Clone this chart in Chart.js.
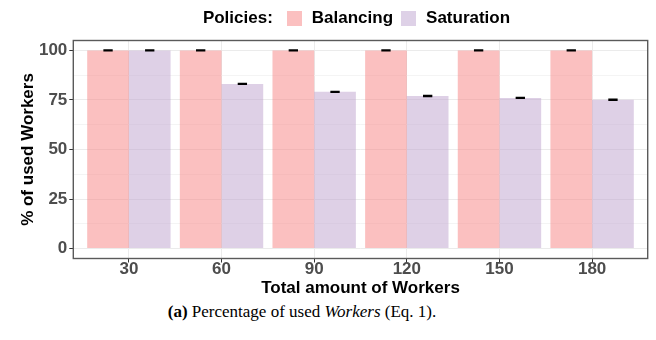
<!DOCTYPE html>
<html>
<head>
<meta charset="utf-8">
<script src="https://cdn.jsdelivr.net/npm/chart.js@4.4.1/dist/chart.umd.min.js"></script>
<style>
  html, body { margin: 0; padding: 0; background: #ffffff; }
  #wrap { position: relative; width: 656px; height: 340px; overflow: hidden; }
  #plot { position: absolute; left: 0; top: 0; }
  #legend {
    position: absolute; left: 73px; top: 8px; width: 575px; height: 20px;
    display: flex; justify-content: center; align-items: center;
    font: bold 17px "Liberation Sans", Arial, sans-serif; color: #000;
  }
  #legend .sw { width: 15px; height: 15px; margin: 0 10px 0 0; }
  #legend .ttl { margin-right: 14px; }
  #legend .lab { margin-right: 8px; }
  #caption {
    position: absolute; left: 0; top: 302px; width: 604px; text-align: center;
    font: 17px "Liberation Serif", "Times New Roman", serif; color: #000;
  }
</style>
</head>
<body>
<div id="wrap">
  <canvas id="plot" width="656" height="300"></canvas>
  <div id="legend"></div>
  <div id="caption"><b>(a)</b> Percentage of used <i>Workers</i> (Eq. 1).</div>
</div>
<script>
// ---- data ----
var categories = ['30', '60', '90', '120', '150', '180'];
var seriesNames = ['Balancing', 'Saturation'];
var balancing = [100, 100, 100, 100, 100, 100];
var saturation = [100, 83.1, 79.1, 77.0, 76.0, 75.1];
var balancingErr = [0.25, 0.25, 0.25, 0.25, 0.25, 0.25];
var saturationErr = [0.25, 0.25, 0.25, 0.25, 0.25, 0.25];
var yTicks = [0, 12.5, 25, 37.5, 50, 62.5, 75, 87.5, 100];

var fillColors = ['rgba(247,129,129,0.5)', 'rgba(189,162,206,0.5)'];
var legendColors = ['#FBC0C0', '#DED1E7'];

// ---- legend (html) ----
var lg = document.getElementById('legend');
lg.innerHTML = '<span class="ttl">Policies:</span>' + seriesNames.map(function (n, i) {
    return '<span class="sw" style="background:' + legendColors[i] + '"></span><span class="lab">' + n + '</span>';
}).join('');

function toPoints(arr) {
    return arr.map(function (v, i) { return { x: i, y: v }; });
}

var seriesValues = [balancing, saturation];
var seriesErrs = [balancingErr, saturationErr];

// error bars drawn on top of bars, positioned by the chart's own scales
var errorBars = {
    id: 'errorBars',
    afterDatasetsDraw: function (chart) {
        var ctx = chart.ctx;
        var y = chart.scales.y;
        ctx.save();
        ctx.strokeStyle = '#000';
        ctx.lineWidth = 1.3;
        chart.data.datasets.forEach(function (ds, di) {
            var meta = chart.getDatasetMeta(di);
            meta.data.forEach(function (bar, j) {
                var v = seriesValues[di][j], e = seriesErrs[di][j];
                var hi = y.getPixelForValue(v + e);
                var lo = y.getPixelForValue(v - e);
                var half = bar.width * 0.112;
                ctx.beginPath();
                ctx.moveTo(bar.x - half, hi); ctx.lineTo(bar.x + half, hi);
                ctx.moveTo(bar.x - half, lo); ctx.lineTo(bar.x + half, lo);
                ctx.moveTo(bar.x, hi); ctx.lineTo(bar.x, lo);
                ctx.stroke();
            });
        });
        ctx.restore();
    }
};

var panelBorder = {
    id: 'panelBorder',
    afterDraw: function (chart) {
        var a = chart.chartArea, ctx = chart.ctx;
        ctx.save();
        ctx.strokeStyle = '#5a5a5a';
        ctx.lineWidth = 1.4;
        ctx.strokeRect(a.left, a.top, a.right - a.left, a.bottom - a.top);
        ctx.restore();
    }
};

Chart.defaults.font.family = '"Liberation Sans", Arial, sans-serif';

new Chart(document.getElementById('plot'), {
    type: 'bar',
    data: {
        datasets: [
            { label: seriesNames[0], data: toPoints(balancing), backgroundColor: fillColors[0], borderWidth: 0 },
            { label: seriesNames[1], data: toPoints(saturation), backgroundColor: fillColors[1], borderWidth: 0 }
        ]
    },
    options: {
        responsive: false,
        animation: false,
        categoryPercentage: 0.9,
        barPercentage: 1.0,
        layout: { padding: { left: 0, right: 8.3, top: 40.5, bottom: 1.5 } },
        plugins: { legend: { display: false }, tooltip: { enabled: false } },
        scales: {
            x: {
                type: 'linear',
                min: -0.6,
                max: 5.6,
                offset: false,
                afterBuildTicks: function (axis) {
                    axis.ticks = categories.map(function (c, i) { return { value: i }; });
                },
                afterFit: function (axis) { axis.height = 40; },
                border: { display: false },
                grid: { offset: false, color: '#EBEBEB', lineWidth: 1, tickLength: 4, tickColor: '#333333' },
                ticks: {
                    color: '#4D4D4D', padding: -2,
                    font: { size: 17, weight: 'bold', lineHeight: 1 },
                    callback: function (v) { return categories[v]; }
                },
                title: {
                    display: true, text: 'Total amount of Workers', color: '#000',
                    font: { size: 17, weight: 'bold' }, padding: { top: 0, bottom: 0 }
                }
            },
            y: {
                min: -5,
                max: 105,
                afterBuildTicks: function (axis) {
                    axis.ticks = yTicks.map(function (v) { return { value: v }; });
                },
                afterFit: function (axis) { axis.width = 73.3; },
                border: { display: false },
                grid: {
                    color: function (c) { return c.tick && c.tick.value % 25 === 0 ? '#EBEBEB' : '#F4F4F4'; },
                    lineWidth: 1,
                    tickLength: 4,
                    tickColor: function (c) { return c.tick && c.tick.value % 25 === 0 ? '#333333' : 'rgba(0,0,0,0)'; }
                },
                ticks: {
                    color: '#4D4D4D', padding: 2,
                    font: { size: 17, weight: 'bold' },
                    callback: function (v) { return v % 25 === 0 ? String(v) : ''; }
                },
                title: {
                    display: true, text: '% of used Workers', color: '#000',
                    font: { size: 17, weight: 'bold' }, padding: { top: 18, bottom: 0 }
                }
            }
        }
    },
    plugins: [errorBars, panelBorder]
});
</script>
</body>
</html>
